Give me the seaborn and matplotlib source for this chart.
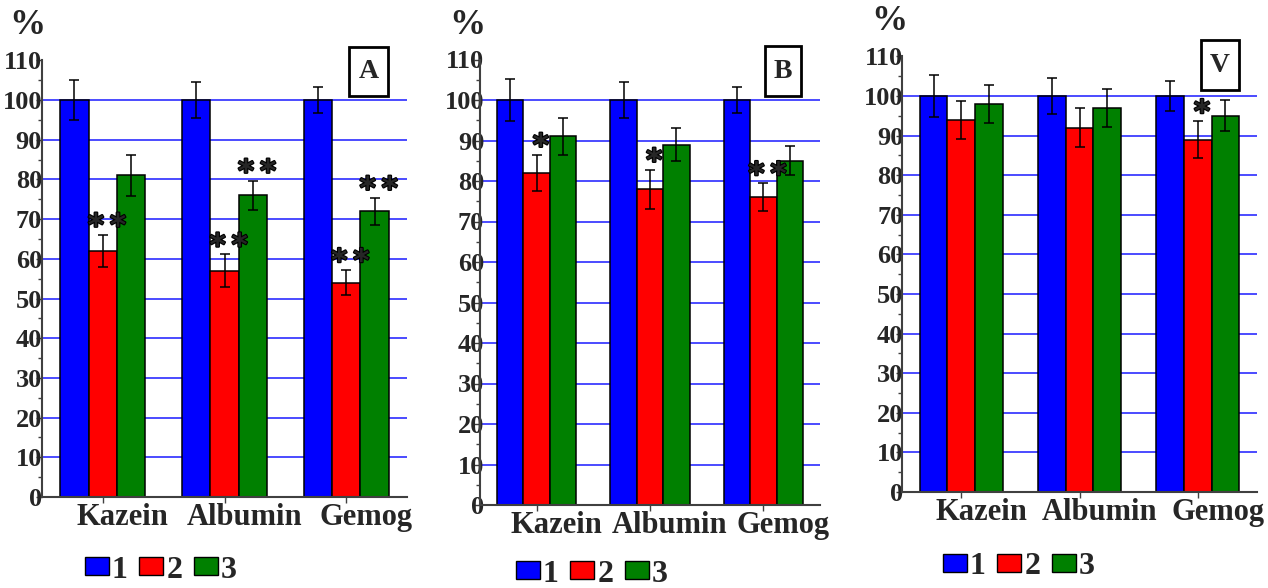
import numpy as np
import pandas as pd
import matplotlib
matplotlib.use("Agg")
import matplotlib.pyplot as plt
import matplotlib.patheffects as pe
import seaborn as sns
from matplotlib.patches import Rectangle, Patch
from matplotlib.ticker import MultipleLocator
from matplotlib.transforms import ScaledTranslation

# ---- data -------------------------------------------------------------
categories = ["Kazein", "Albumin", "Gemog"]
groups = ["1", "2", "3"]
colors = ["#0000ff", "#ff0000", "#008000"]

# panel A
a_g1 = [100, 100, 100]
a_g2 = [62, 57, 54]
a_g3 = [81, 76, 72]
a_err1 = [5.1, 4.5, 3.2]
a_err2 = [4.1, 4.1, 3.2]
a_err3 = [5.2, 3.7, 3.4]
a_sig2 = ["**", "**", "**"]
a_sig3 = ["", "**", "**"]

# panel B
b_g1 = [100, 100, 100]
b_g2 = [82, 78, 76]
b_g3 = [91, 89, 85]
b_err1 = [5.1, 4.5, 3.2]
b_err2 = [4.5, 4.8, 3.5]
b_err3 = [4.5, 4.1, 3.6]
b_sig2 = ["*", "*", "**"]
b_sig3 = ["", "", ""]

# panel V
v_g1 = [100, 100, 100]
v_g2 = [94, 92, 89]
v_g3 = [98, 97, 95]
v_err1 = [5.2, 4.5, 3.7]
v_err2 = [4.8, 5.0, 4.7]
v_err3 = [4.9, 4.8, 3.9]
v_sig2 = ["", "", "*"]
v_sig3 = ["", "", ""]

y_ticks = list(range(0, 111, 10))
no_sig = ["", "", ""]

# ---- style ------------------------------------------------------------
sns.set_theme(style="white")
plt.rcParams["font.family"] = ["Liberation Serif", "DejaVu Serif"]
plt.rcParams["font.weight"] = "bold"

W, H = 1268, 588
fig = plt.figure(figsize=(W / 100, H / 100), dpi=100)


def px_rect(left, top, right, bottom):
    return [left / W, 1 - bottom / H, (right - left) / W, (bottom - top) / H]


def draw_panel(rect, values, errors, sigs, label_pad):
    ax = fig.add_axes(rect)
    rows = []
    for g, vals in zip(groups, values):
        for c, v in zip(categories, vals):
            rows.append({"category": c, "group": g, "value": v})
    df = pd.DataFrame(rows)
    sns.barplot(data=df, x="category", y="value", hue="group",
                palette=colors, saturation=1, width=0.7, errorbar=None,
                edgecolor="black", linewidth=1.1, legend=False, ax=ax)

    for container, errs, marks in zip(ax.containers, errors, sigs):
        for bar, e, m in zip(container, errs, marks):
            x = bar.get_x() + bar.get_width() / 2
            h = bar.get_height()
            ax.errorbar(x, h, yerr=e, color="black", capsize=3.3,
                        elinewidth=1.1, capthick=1.1, zorder=5)
            if m:
                ax.annotate("\u2009".join(m), (x, h + e), xytext=(3, -0.5),
                            textcoords="offset points", ha="center",
                            va="baseline", fontsize=22, fontweight="bold",
                            family="DejaVu Sans", zorder=6,
                            path_effects=[pe.withStroke(linewidth=1.6,
                                                        foreground="black")])

    ax.set_xlim(-0.5, 2.5)
    ax.set_ylim(0, 110)
    ax.set_xlabel("")
    ax.set_ylabel("")
    ax.set_yticks(y_ticks)
    ax.yaxis.set_minor_locator(MultipleLocator(5))
    ax.grid(axis="y", which="major", color="#1a1aff", linewidth=1.1)
    ax.get_ygridlines()[-1].set_visible(False)
    ax.set_axisbelow(True)

    for side in ("top", "right"):
        ax.spines[side].set_visible(False)
    for side in ("left", "bottom"):
        ax.spines[side].set_color("#404040")
        ax.spines[side].set_linewidth(1.5)

    ax.tick_params(axis="y", which="major", left=True, length=4, width=1,
                   color="#404040", pad=label_pad, labelsize=19)
    ax.tick_params(axis="y", which="minor", left=True, length=3, width=1,
                   color="#404040")
    ax.tick_params(axis="x", bottom=True, length=4, width=1,
                   color="#404040", pad=0, labelsize=22)
    shift = ScaledTranslation(20 / 100, 0, fig.dpi_scale_trans)
    for lbl in ax.get_xticklabels():
        lbl.set_transform(lbl.get_transform() + shift)
        lbl.set_fontweight("bold")
    for lbl in ax.get_yticklabels():
        lbl.set_fontweight("bold")
    return ax


panels = [
    dict(rect=px_rect(42, 60.3, 407, 497),
         values=[a_g1, a_g2, a_g3], errors=[a_err1, a_err2, a_err3],
         sigs=[no_sig, a_sig2, a_sig3], pad=-4,
         pct=(27, 26), box=(349, 47, 388, 96), letter="A", legend=(161, 570)),
    dict(rect=px_rect(480, 59.5, 820, 505),
         values=[b_g1, b_g2, b_g3], errors=[b_err1, b_err2, b_err3],
         sigs=[no_sig, b_sig2, b_sig3], pad=-7,
         pct=(467, 26), box=(765, 46, 801, 96), letter="B", legend=(592, 574)),
    dict(rect=px_rect(902, 56.4, 1257, 492),
         values=[v_g1, v_g2, v_g3], errors=[v_err1, v_err2, v_err3],
         sigs=[no_sig, v_sig2, v_sig3], pad=-5,
         pct=(889, 21), box=(1201, 40, 1239, 90), letter="V", legend=(1019, 567)),
]

for p in panels:
    draw_panel(p["rect"], p["values"], p["errors"], p["sigs"], p["pad"])

    fig.text(p["pct"][0] / W, 1 - p["pct"][1] / H, "%", fontsize=26,
             fontweight="bold", ha="center", va="center")

    l, t, r, b = p["box"]
    fig.add_artist(Rectangle((l / W, 1 - b / H), (r - l) / W, (b - t) / H,
                             transform=fig.transFigure, fill=False,
                             edgecolor="black", linewidth=2))
    fig.text((l + r) / 2 / W, 1 - (t + b) / 2 / H, p["letter"], fontsize=20,
             fontweight="bold", ha="center", va="center")

    handles = [Patch(facecolor=c, edgecolor="black", linewidth=1) for c in colors]
    fig.legend(handles=handles, labels=groups, ncol=3, loc="center",
               bbox_to_anchor=(p["legend"][0] / W, 1 - p["legend"][1] / H),
               frameon=False, fontsize=23, handlelength=0.75,
               handleheight=0.47, handletextpad=0.1, columnspacing=0.36,
               borderpad=0, borderaxespad=0)

fig.savefig("out.png", dpi=100)
